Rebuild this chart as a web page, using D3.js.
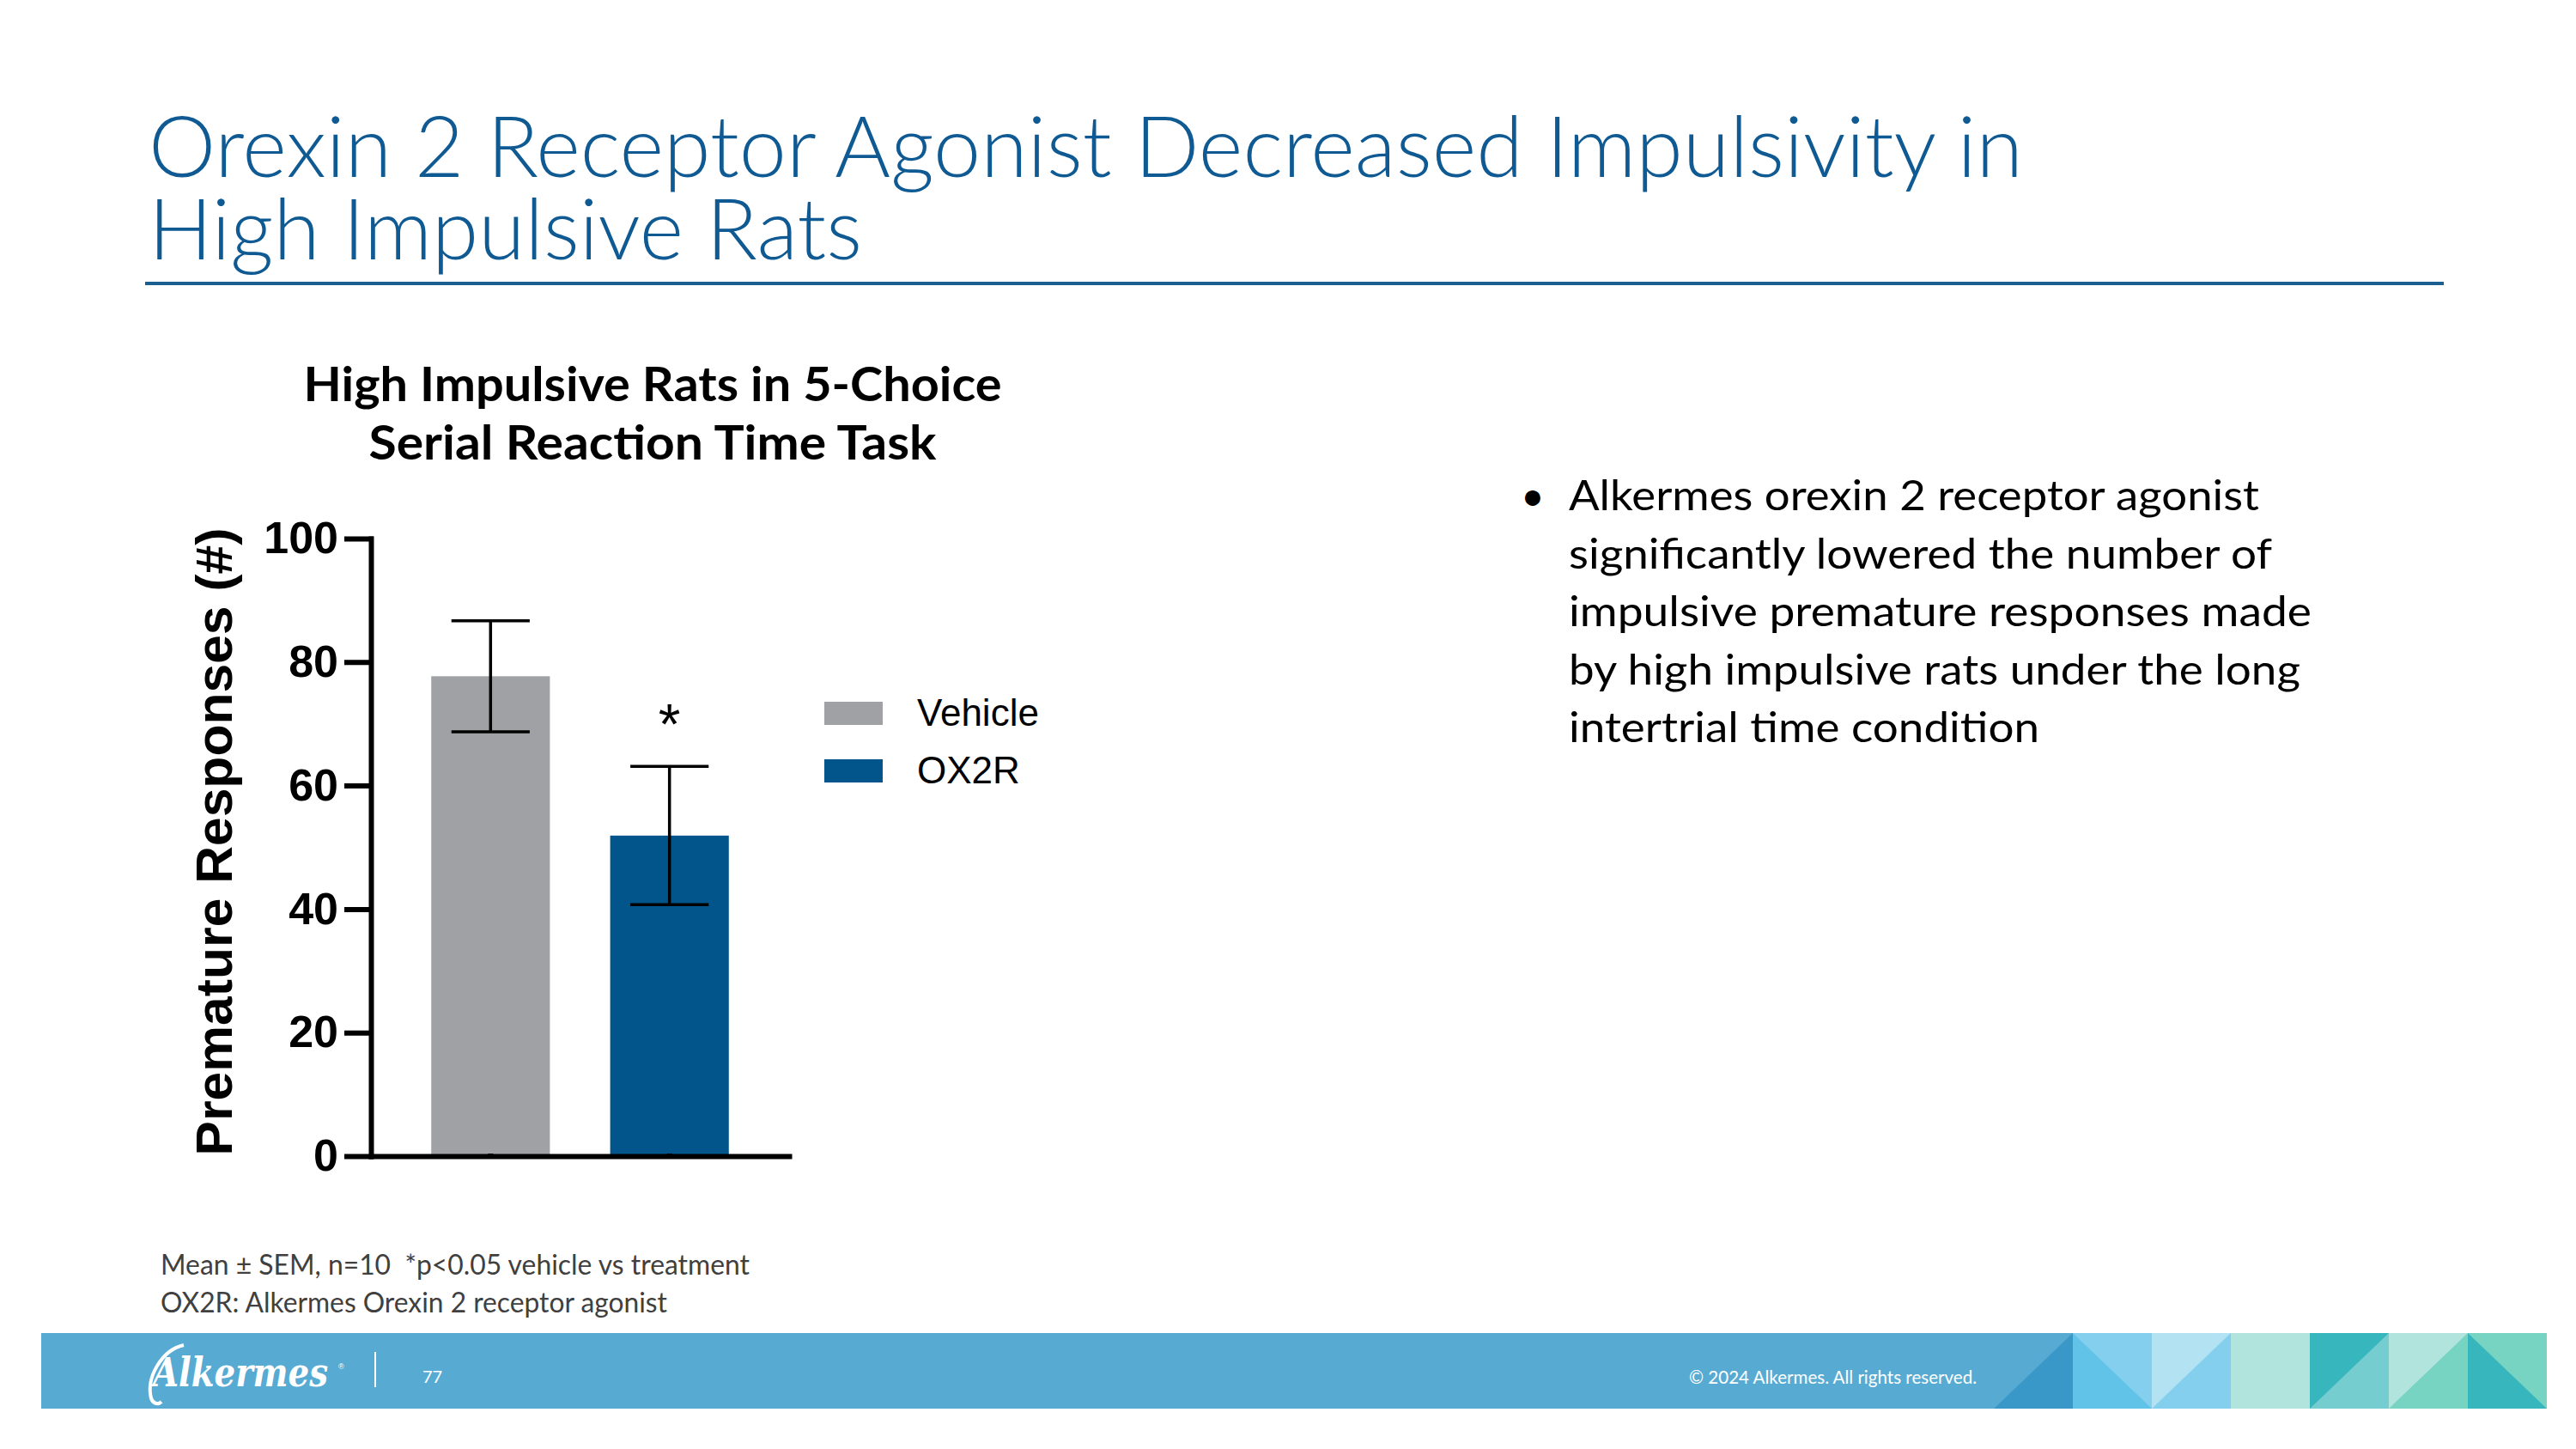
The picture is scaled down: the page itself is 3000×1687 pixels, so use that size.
<!DOCTYPE html>
<html>
<head>
<meta charset="utf-8">
<script src="https://cdn.jsdelivr.net/npm/d3@7"></script>
<style>
  body { margin: 0; background: #fff; }
  svg { display: block; }
</style>
</head>
<body>
<svg id="slide" width="3000" height="1687"></svg>
<script>
// chart data
var categories = ['Vehicle', 'OX2R'];
var means = [77.7, 51.9];
var sems = [9.0, 11.2];
var marks = ['', '*'];
var yTicks = [0, 20, 40, 60, 80, 100];
var barColors = ['#a0a1a5', '#02558b'];

// slide texts
var titleLines = ['Orexin 2 Receptor Agonist Decreased Impulsivity in', 'High Impulsive Rats'];
var chartTitleLines = ['High Impulsive Rats in 5-Choice', 'Serial Reaction Time Task'];
var bulletLines = [
  'Alkermes orexin 2 receptor agonist',
  'significantly lowered the number of',
  'impulsive premature responses made',
  'by high impulsive rats under the long',
  'intertrial time condition'
];
var footLines = ['Mean \u00b1 SEM, n=10  *p<0.05 vehicle vs treatment', 'OX2R: Alkermes Orexin 2 receptor agonist'];

// footer tiles: [upper colour, lower colour, diagonal direction]
var tiles = [
  ['#57abd3', '#3a98c9', 'up'],
  ['#84cfee', '#62c3e8', 'down'],
  ['#b3e2f3', '#84cfee', 'up'],
  ['#b2e4de', '#b2e4de', 'up'],
  ['#38b6bd', '#75cdd0', 'up'],
  ['#b2e4de', '#77d3c2', 'up'],
  ['#77d3c2', '#38b6bd', 'down']
];

var svg = d3.select('#slide');
svg.append('rect').attr('width', 3000).attr('height', 1687).attr('fill', '#fff');

// squeeze a text line to the width seen on the slide
function fit(sel, w) {
  sel.attr('textLength', w).attr('lengthAdjust', 'spacingAndGlyphs');
}

// slide title
var titleWidths = [2183, 831];
titleLines.forEach(function(t, i) {
  svg.append('text')
    .attr('x', 173).attr('y', 206 + i * 96)
    .attr('font-family', 'Lato').attr('font-weight', 300)
    .attr('font-size', 99).attr('fill', '#0f5a93')
    .text(t).call(fit, titleWidths[i]);
});
svg.append('line')
  .attr('x1', 169).attr('x2', 2846).attr('y1', 330).attr('y2', 330)
  .attr('stroke', '#1b5e90').attr('stroke-width', 4);

// chart title
var ctWidths = [813, 661];
chartTitleLines.forEach(function(t, i) {
  svg.append('text')
    .attr('x', 760).attr('y', 467 + i * 68)
    .attr('text-anchor', 'middle')
    .attr('font-family', 'Lato').attr('font-weight', 700)
    .attr('font-size', 56).attr('fill', '#000')
    .text(t).call(fit, ctWidths[i]);
});

// scales
var x = d3.scaleBand().domain(categories).range([432, 919]).padding(0.337);
var y = d3.scaleLinear().domain([0, 100]).range([1346, 627]);

var chart = svg.append('g');

chart.selectAll('rect.bar').data(categories).enter().append('rect')
  .attr('class', 'bar')
  .attr('x', function(d) { return x(d); })
  .attr('width', x.bandwidth())
  .attr('y', function(d, i) { return y(means[i]); })
  .attr('height', function(d, i) { return y(0) - y(means[i]); })
  .attr('fill', function(d, i) { return barColors[i]; });

// error bars
var capW = x.bandwidth() * 0.66;
var err = chart.selectAll('g.err').data(categories).enter().append('g')
  .attr('class', 'err')
  .attr('stroke', '#000').attr('stroke-width', 3.5);
err.append('line')
  .attr('x1', function(d) { return x(d) + x.bandwidth() / 2; })
  .attr('x2', function(d) { return x(d) + x.bandwidth() / 2; })
  .attr('y1', function(d, i) { return y(means[i] + sems[i]); })
  .attr('y2', function(d, i) { return y(means[i] - sems[i]); });
[1, -1].forEach(function(sgn) {
  err.append('line')
    .attr('x1', function(d) { return x(d) + x.bandwidth() / 2 - capW / 2; })
    .attr('x2', function(d) { return x(d) + x.bandwidth() / 2 + capW / 2; })
    .attr('y1', function(d, i) { return y(means[i] + sgn * sems[i]); })
    .attr('y2', function(d, i) { return y(means[i] + sgn * sems[i]); });
});

// significance star
chart.selectAll('text.sig').data(categories).enter().append('text')
  .attr('class', 'sig')
  .attr('x', function(d) { return x(d) + x.bandwidth() / 2; })
  .attr('y', function(d, i) { return y(means[i] + sems[i]) - 26; })
  .attr('text-anchor', 'middle')
  .attr('font-family', 'Liberation Sans').attr('font-size', 66)
  .text(function(d, i) { return marks[i]; });

// axes
var yAxis = chart.append('g')
  .attr('transform', 'translate(432,0)')
  .call(d3.axisLeft(y).tickValues(yTicks).tickSize(28).tickSizeOuter(0).tickPadding(10));
var xAxis = chart.append('g')
  .attr('transform', 'translate(0,1346)')
  .call(d3.axisBottom(x).tickSize(0).tickSizeOuter(0).tickFormat(''));
[yAxis, xAxis].forEach(function(a) {
  a.selectAll('path, line').attr('stroke', '#000').attr('stroke-width', 6).attr('stroke-linecap', 'square');
});
yAxis.selectAll('text')
  .attr('font-family', 'Liberation Sans').attr('font-weight', 'bold')
  .attr('font-size', 52).attr('fill', '#000');

svg.append('text')
  .attr('transform', 'translate(270,980) rotate(-90)')
  .attr('text-anchor', 'middle')
  .attr('font-family', 'Liberation Sans').attr('font-weight', 'bold')
  .attr('font-size', 60).attr('fill', '#000')
  .text('Premature Responses (#)').call(fit, 731);

// legend
var legend = svg.selectAll('g.legend').data(categories).enter().append('g')
  .attr('class', 'legend')
  .attr('transform', function(d, i) { return 'translate(960,' + (817 + i * 67) + ')'; });
legend.append('rect')
  .attr('width', 68).attr('height', 27)
  .attr('fill', function(d, i) { return barColors[i]; });
legend.append('text')
  .attr('x', 108).attr('y', 28)
  .attr('font-family', 'Liberation Sans').attr('font-size', 44).attr('fill', '#000')
  .text(function(d) { return d; });

// bullet text
var bulletWidths = [804, 819, 865, 852, 548];
svg.append('text')
  .attr('x', 1771).attr('y', 594)
  .attr('font-family', 'Lato').attr('font-size', 48).attr('fill', '#000')
  .text('\u2022');
bulletLines.forEach(function(t, i) {
  svg.append('text')
    .attr('x', 1827).attr('y', 594 + i * 67.5)
    .attr('font-family', 'Lato').attr('font-size', 48).attr('fill', '#000')
    .text(t).call(fit, bulletWidths[i]);
});

// footnote
var footWidths = [686, 590];
footLines.forEach(function(t, i) {
  svg.append('text')
    .attr('x', 187).attr('y', 1484 + i * 44)
    .attr('font-family', 'Lato').attr('font-size', 32).attr('fill', '#404040')
    .style('white-space', 'pre')
    .text(t).call(fit, footWidths[i]);
});

// footer band
var band = svg.append('g');
band.append('rect')
  .attr('x', 48).attr('y', 1552).attr('width', 2918).attr('height', 88)
  .attr('fill', '#57abd3');
var tw = 92, tx0 = 2966 - tiles.length * tw, ty0 = 1552, ty1 = 1640;
tiles.forEach(function(t, i) {
  var a = tx0 + i * tw, b = a + tw;
  band.append('rect').attr('x', a).attr('y', ty0).attr('width', tw).attr('height', ty1 - ty0).attr('fill', t[0]);
  var pts = t[2] === 'up'
    ? [[a, ty1], [b, ty0], [b, ty1]]
    : [[a, ty0], [b, ty1], [a, ty1]];
  band.append('path').attr('d', d3.line()(pts) + 'Z').attr('fill', t[1]);
});

// logo
band.append('path')
  .attr('d', 'M214,1566 C188,1572 170,1604 176,1628 C178,1634 184,1636 188,1632')
  .attr('fill', 'none').attr('stroke', '#fff').attr('stroke-width', 4);
band.append('text')
  .attr('x', 178).attr('y', 1614)
  .attr('font-family', 'DejaVu Serif').attr('font-weight', 'bold').attr('font-style', 'italic')
  .attr('font-size', 46).attr('fill', '#fff')
  .text('Alkermes').call(fit, 204);
band.append('text')
  .attr('x', 394).attr('y', 1594)
  .attr('font-family', 'Liberation Sans').attr('font-size', 9).attr('fill', '#fff')
  .text('\u00ae');
band.append('line')
  .attr('x1', 437).attr('x2', 437).attr('y1', 1574).attr('y2', 1615)
  .attr('stroke', '#fff').attr('stroke-width', 2);
band.append('text')
  .attr('x', 492).attr('y', 1610)
  .attr('font-family', 'Lato').attr('font-size', 20).attr('fill', '#fff')
  .text('77');
band.append('text')
  .attr('x', 1967).attr('y', 1611)
  .attr('font-family', 'Lato').attr('font-size', 21).attr('fill', '#fff')
  .text('\u00a9 2024 Alkermes. All rights reserved.').call(fit, 335);
</script>
</body>
</html>
